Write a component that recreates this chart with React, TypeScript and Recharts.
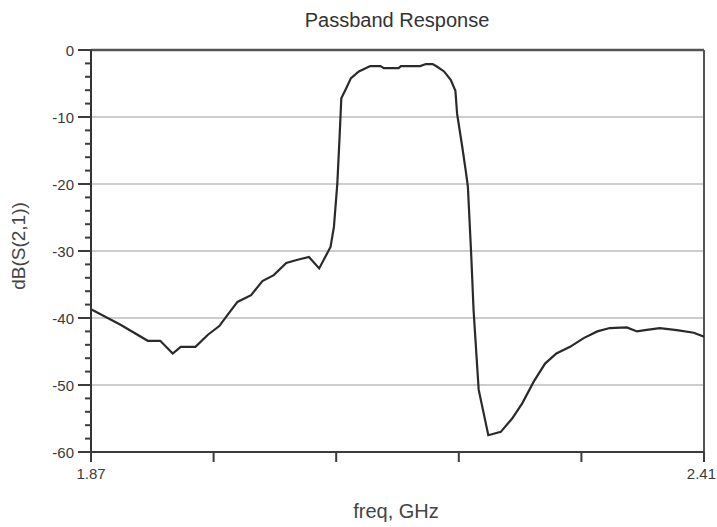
import React from "react";
import { LineChart, Line, XAxis, YAxis, ReferenceLine } from "recharts";

const freq = [
  1.87, 1.896, 1.92, 1.931, 1.942, 1.949, 1.962, 1.973, 1.983, 1.99, 1.999, 2.011,
  2.021, 2.031, 2.042, 2.052, 2.062, 2.071, 2.081, 2.084, 2.087, 2.089, 2.0905,
  2.094, 2.099, 2.106, 2.116, 2.125, 2.128, 2.141, 2.143, 2.16, 2.165, 2.171,
  2.175, 2.181, 2.187, 2.191, 2.1925, 2.197, 2.2, 2.202, 2.205, 2.207, 2.2115,
  2.22, 2.231, 2.241, 2.25, 2.26, 2.27, 2.28, 2.292, 2.304, 2.316, 2.327, 2.342,
  2.351, 2.358, 2.371, 2.386, 2.401, 2.41,
];
const dbS21 = [
  -38.7, -41.0, -43.4, -43.4, -45.3, -44.3, -44.3, -42.5, -41.2, -39.6, -37.6, -36.6,
  -34.5, -33.6, -31.8, -31.3, -30.9, -32.6, -29.4, -26.4, -19.9, -12.9, -7.2,
  -6.0, -4.2, -3.2, -2.4, -2.4, -2.7, -2.7, -2.4, -2.4, -2.1, -2.1,
  -2.5, -3.2, -4.5, -6.1, -9.5, -14.4, -17.9, -20.4, -30.8, -38.8, -50.7,
  -57.5, -57.0, -55.0, -52.7, -49.5, -46.8, -45.3, -44.3, -43.0, -42.0, -41.5, -41.4,
  -42.0, -41.8, -41.5, -41.8, -42.2, -42.8,
];

const xTicks = [1.87, 1.978, 2.086, 2.194, 2.302, 2.41];
const xTickLabels = ["1.87", "", "", "", "", "2.41"];
const yTicks = [
  0, -2, -4, -6, -8, -10, -12, -14, -16, -18, -20, -22, -24, -26, -28, -30, -32, -34,
  -36, -38, -40, -42, -44, -46, -48, -50, -52, -54, -56, -58, -60,
];
const yGrid = [-10, -20, -30, -40, -50];

const title = "Passband Response";
const xLabel = "freq, GHz";
const yLabel = "dB(S(2,1))";

const data = freq.map((f, i) => ({ f, v: dbS21[i] }));

const FONT = "'Liberation Sans', Arial, sans-serif";
const TXT = "#3a3a3a";
const AX = "#3c3c3c";

const YTick = (props: any) => {
  const { x, y, payload } = props;
  const v = payload.value as number;
  const major = Math.round(v) % 10 === 0;
  const len = major ? 13 : 6;
  return (
    <g>
      <line x1={x} y1={y} x2={x - len} y2={y} stroke={AX} strokeWidth={2} />
      {major && (
        <text
          x={x - 17}
          y={y}
          textAnchor="end"
          dominantBaseline="central"
          fontSize={15}
          fontFamily={FONT}
          fill={TXT}
        >
          {String(v)}
        </text>
      )}
    </g>
  );
};

const XTick = (props: any) => {
  const { x, y, index } = props;
  const label = xTickLabels[index] ?? "";
  const isLast = index === xTickLabels.length - 1;
  return (
    <g>
      <line x1={x} y1={y} x2={x} y2={y + 10} stroke={AX} strokeWidth={2} />
      {label && (
        <text
          x={isLast ? x + 12 : x}
          y={y + 21}
          textAnchor={isLast ? "end" : "middle"}
          dominantBaseline="central"
          fontSize={15}
          fontFamily={FONT}
          fill={TXT}
        >
          {label}
        </text>
      )}
    </g>
  );
};

export default function App() {
  return (
    <div style={{ position: "absolute", left: 0, top: 0, width: 717, height: 527, background: "#fff" }}>
      <LineChart
        width={717}
        height={527}
        data={data}
        margin={{ top: 50, right: 13, left: 0, bottom: 0 }}
        style={{ overflow: "visible" }}
      >
        <XAxis
          dataKey="f"
          type="number"
          domain={[1.87, 2.41]}
          ticks={xTicks}
          allowDataOverflow
          height={75}
          tickSize={0}
          tickMargin={0}
          tickLine={false}
          axisLine={{ stroke: AX, strokeWidth: 2 }}
          tick={<XTick />}
          interval={0}
        />
        <YAxis
          type="number"
          domain={[-60, 0]}
          ticks={yTicks}
          allowDataOverflow
          width={91}
          tickSize={0}
          tickMargin={0}
          tickLine={false}
          axisLine={{ stroke: "#333", strokeWidth: 2 }}
          tick={<YTick />}
          interval={0}
        />
        {yGrid.map((g) => (
          <ReferenceLine key={g} y={g} stroke="#bdbdbd" strokeWidth={1.5} />
        ))}
        <ReferenceLine y={0} stroke="#555" strokeWidth={2.5} />
        <ReferenceLine x={2.41} stroke="#555" strokeWidth={2} />
        <Line
          type="linear"
          dataKey="v"
          stroke="#2a2a2a"
          strokeWidth={2.2}
          dot={false}
          isAnimationActive={false}
        />
      </LineChart>
      <div
        style={{
          position: "absolute",
          left: 297,
          top: 10,
          width: 200,
          textAlign: "center",
          fontSize: 20,
          lineHeight: "20px",
          fontFamily: FONT,
          color: "#333",
          whiteSpace: "nowrap",
        }}
      >
        {title}
      </div>
      <div
        style={{
          position: "absolute",
          left: 296,
          top: 501,
          width: 200,
          textAlign: "center",
          fontSize: 20,
          lineHeight: "20px",
          fontFamily: FONT,
          color: "#444",
          whiteSpace: "nowrap",
        }}
      >
        {xLabel}
      </div>
      <div
        style={{
          position: "absolute",
          left: 19 - 100,
          top: 246 - 10,
          width: 200,
          height: 20,
          textAlign: "center",
          fontSize: 19,
          lineHeight: "20px",
          fontFamily: FONT,
          color: "#444",
          whiteSpace: "nowrap",
          transform: "rotate(-90deg)",
        }}
      >
        {yLabel}
      </div>
    </div>
  );
}
